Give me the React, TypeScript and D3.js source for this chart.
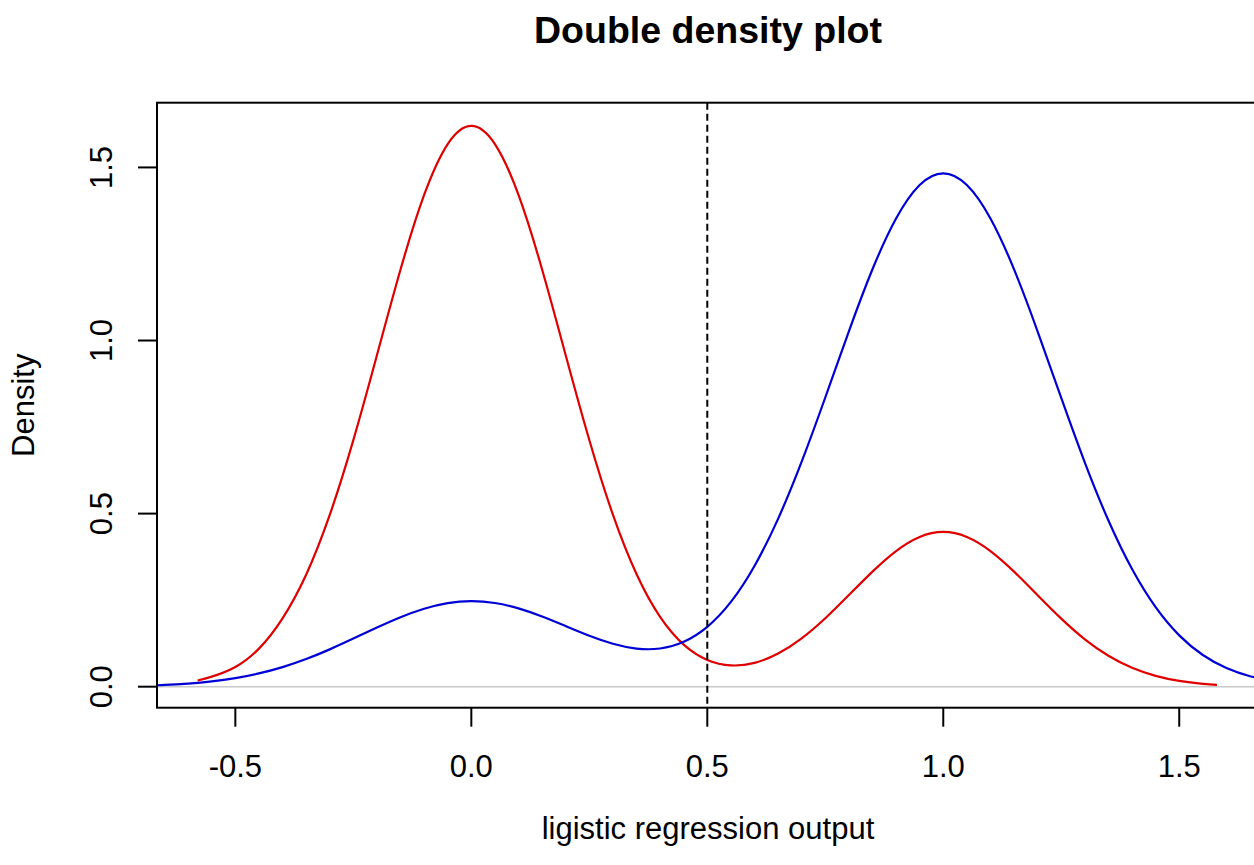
import React from "react";
import * as d3 from "d3";

const TITLE = "Double density plot";
const X_LABEL = "ligistic regression output";
const Y_LABEL = "Density";

const X_TICKS = [-0.5, 0, 0.5, 1, 1.5];
const X_TICK_LABELS = ["-0.5", "0.0", "0.5", "1.0", "1.5"];
const Y_TICKS = [0, 0.5, 1, 1.5];
const Y_TICK_LABELS = ["0.0", "0.5", "1.0", "1.5"];
const CUTOFF = 0.5;

const RED_X = [-0.58, -0.55, -0.5, -0.45, -0.4, -0.35, -0.3, -0.25, -0.2, -0.15, -0.1, -0.05, 0.0, 0.05, 0.1, 0.15, 0.2, 0.25, 0.3, 0.35, 0.4, 0.45, 0.5, 0.55, 0.6, 0.65, 0.7, 0.75, 0.8, 0.85, 0.9, 0.95, 1.0, 1.05, 1.1, 1.15, 1.2, 1.25, 1.3, 1.35, 1.4, 1.45, 1.5, 1.55, 1.58];
const RED_Y = [0.018, 0.029, 0.057, 0.11, 0.1976, 0.3236, 0.4961, 0.7122, 0.9574, 1.2051, 1.4204, 1.5676, 1.62, 1.5676, 1.4204, 1.2051, 0.9574, 0.7125, 0.4968, 0.3253, 0.2015, 0.1214, 0.0772, 0.0615, 0.0687, 0.0956, 0.1395, 0.1975, 0.2646, 0.3325, 0.3919, 0.4326, 0.447, 0.4326, 0.3919, 0.3325, 0.2642, 0.1965, 0.1369, 0.0893, 0.0545, 0.0312, 0.0167, 0.0084, 0.0054];

const BLUE_X = [-0.7, -0.65, -0.6, -0.55, -0.5, -0.45, -0.4, -0.35, -0.3, -0.25, -0.2, -0.15, -0.1, -0.05, 0.0, 0.05, 0.1, 0.15, 0.2, 0.25, 0.3, 0.35, 0.4, 0.45, 0.5, 0.55, 0.6, 0.65, 0.7, 0.75, 0.8, 0.85, 0.9, 0.95, 1.0, 1.05, 1.1, 1.15, 1.2, 1.25, 1.3, 1.35, 1.4, 1.45, 1.5, 1.55, 1.6, 1.65, 1.7];
const BLUE_Y = [0.0027, 0.005, 0.009, 0.0152, 0.0247, 0.0383, 0.0566, 0.0799, 0.1078, 0.1389, 0.1709, 0.2008, 0.2253, 0.2415, 0.2472, 0.2418, 0.2262, 0.2027, 0.175, 0.1472, 0.1241, 0.1102, 0.1104, 0.1298, 0.173, 0.2449, 0.3488, 0.4849, 0.6501, 0.8354, 1.0267, 1.2058, 1.3526, 1.4494, 1.483, 1.4493, 1.3525, 1.2055, 1.026, 0.834, 0.6474, 0.4799, 0.3398, 0.2297, 0.1483, 0.0915, 0.0538, 0.0303, 0.0163];

const W = 1254;
const H = 865;
const LEFT = 157;
const RIGHT = 1259;
const TOP = 102.7;
const BOTTOM = 707.7;
const FONT = "'Liberation Sans', Arial, Helvetica, sans-serif";

export default function App() {
  const x = d3.scaleLinear().domain([-0.666, 1.669]).range([LEFT, RIGHT]);
  const y = d3.scaleLinear().domain([-0.0607, 1.687]).range([BOTTOM, TOP]);

  const line = d3
    .line<[number, number]>()
    .x((d) => x(d[0]))
    .y((d) => y(d[1]))
    .curve(d3.curveNatural);

  const redPts: [number, number][] = RED_X.map((v, i) => [v, RED_Y[i]]);
  const bluePts: [number, number][] = BLUE_X.map((v, i) => [v, BLUE_Y[i]]);

  const midX = (LEFT + RIGHT) / 2;
  const midY = (TOP + BOTTOM) / 2;

  return (
    <svg
      width={W}
      height={H}
      style={{ position: "absolute", left: 0, top: 0, display: "block", background: "#fff" }}
      fontFamily={FONT}
    >
      <defs>
        <clipPath id="plotclip">
          <rect x={LEFT} y={TOP} width={RIGHT - LEFT} height={BOTTOM - TOP} />
        </clipPath>
      </defs>
      <rect x={0} y={0} width={W} height={H} fill="#fff" />

      <g clipPath="url(#plotclip)">
        <line x1={LEFT} x2={RIGHT} y1={y(0)} y2={y(0)} stroke="#c8c8c8" strokeWidth={1.6} />
        <path d={line(redPts) || ""} fill="none" stroke="#e00000" strokeWidth={2.2} />
        <path d={line(bluePts) || ""} fill="none" stroke="#0000d6" strokeWidth={2.2} />
        <line
          x1={x(CUTOFF)}
          x2={x(CUTOFF)}
          y1={TOP}
          y2={BOTTOM}
          stroke="#000"
          strokeWidth={2}
          strokeDasharray="7,4"
        />
      </g>

      <rect
        x={LEFT}
        y={TOP}
        width={RIGHT - LEFT}
        height={BOTTOM - TOP}
        fill="none"
        stroke="#000"
        strokeWidth={2}
      />

      {X_TICKS.map((t, i) => (
        <g key={"xt" + i}>
          <line x1={x(t)} x2={x(t)} y1={BOTTOM} y2={BOTTOM + 19} stroke="#000" strokeWidth={2} />
          <text x={x(t)} y={777} textAnchor="middle" fontSize={31} fill="#000">
            {X_TICK_LABELS[i]}
          </text>
        </g>
      ))}

      {Y_TICKS.map((t, i) => (
        <g key={"yt" + i}>
          <line x1={LEFT - 19} x2={LEFT} y1={y(t)} y2={y(t)} stroke="#000" strokeWidth={2} />
          <text
            transform={`translate(112,${y(t)}) rotate(-90)`}
            textAnchor="middle"
            fontSize={31}
            fill="#000"
          >
            {Y_TICK_LABELS[i]}
          </text>
        </g>
      ))}

      <text x={midX} y={43} textAnchor="middle" fontSize={37.5} fontWeight="bold" fill="#000">
        {TITLE}
      </text>
      <text x={midX} y={839} textAnchor="middle" fontSize={31} fill="#000">
        {X_LABEL}
      </text>
      <text
        transform={`translate(34,${midY}) rotate(-90)`}
        textAnchor="middle"
        fontSize={31}
        fill="#000"
      >
        {Y_LABEL}
      </text>
    </svg>
  );
}
